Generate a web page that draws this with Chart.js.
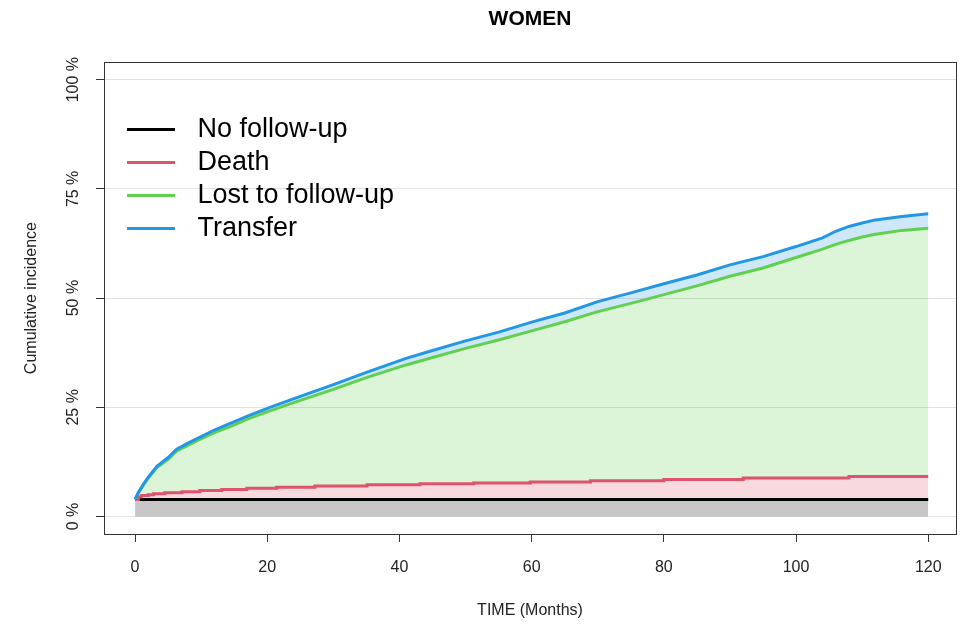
<!DOCTYPE html>
<html>
<head>
<meta charset="utf-8">
<script src="https://cdn.jsdelivr.net/npm/chart.js@4.4.1/dist/chart.umd.min.js"></script>
<style>
  html, body { margin: 0; padding: 0; background: #fff; }
  #chart { display: block; }
</style>
</head>
<body>
<canvas id="chart" width="963" height="624"></canvas>
<script>
// values (cumulative, stacked as drawn), in %
const trendMonths = [0, 0.5, 1.3, 2, 3.3, 5, 6.3, 8, 10, 12, 14.4, 17, 20.4, 25, 30, 35, 41, 45, 50, 55, 60, 65, 70, 75, 80, 85, 90, 95, 100, 104, 106, 108, 110, 112, 116, 120];
const transferPct = [3.9, 5.5, 7.5, 9.0, 11.5, 13.5, 15.4, 16.8, 18.3, 19.8, 21.3, 23.0, 25.0, 27.5, 30.2, 33.0, 36.2, 38.0, 40.2, 42.2, 44.5, 46.6, 49.2, 51.2, 53.3, 55.3, 57.6, 59.5, 61.8, 63.8, 65.3, 66.4, 67.2, 67.9, 68.7, 69.3];
const lostPct = [3.9, 5.4, 7.3, 8.8, 11.2, 13.1, 15.0, 16.3, 17.8, 19.2, 20.6, 22.3, 24.2, 26.6, 29.1, 31.8, 34.7, 36.4, 38.5, 40.4, 42.5, 44.6, 46.9, 48.8, 50.8, 52.8, 55.0, 56.9, 59.3, 61.2, 62.3, 63.2, 64.0, 64.6, 65.5, 66.0];

const deathMonths = [0, 0.5, 1, 2, 2.8, 4.5, 7.1, 9.8, 13.1, 16.9, 21.4, 27.2, 35.1, 43.1, 51.2, 59.8, 68.9, 80, 92, 108, 120];
const deathPct = [3.9, 4.5, 4.8, 5.0, 5.2, 5.45, 5.7, 5.95, 6.2, 6.45, 6.7, 7.0, 7.25, 7.5, 7.7, 7.9, 8.2, 8.5, 8.8, 9.15, 9.15];

const noFollowMonths = [0, 120];
const noFollowPct = [3.9, 3.9];

const seriesNames = ["No follow-up", "Death", "Lost to follow-up", "Transfer"];
const xTicks = [0, 20, 40, 60, 80, 100, 120];
const yTicks = [0, 25, 50, 75, 100];

const font = "'Liberation Sans', Arial, sans-serif";

const toPoints = (xs, ys) => xs.map((x, i) => ({ x: x, y: ys[i] }));

// legend key: a 48px line with some empty room after it, as R spaces it
function legendKey(color) {
  const c = document.createElement("canvas");
  c.width = 57;
  c.height = 3;
  const g = c.getContext("2d");
  g.fillStyle = color;
  g.fillRect(0, 0, 48, 3);
  return c;
}

// box around the plot region, like R's box()
const plotBox = {
  id: "plotBox",
  afterDraw(chart) {
    const a = chart.chartArea;
    const ctx = chart.ctx;
    ctx.save();
    ctx.strokeStyle = "#333";
    ctx.lineWidth = 1;
    ctx.strokeRect(Math.round(a.left) + 0.5, Math.round(a.top) + 0.5, Math.round(a.right - a.left), Math.round(a.bottom - a.top));
    ctx.restore();
  }
};

// put the legend where R's legend("topleft", inset) puts it
const legendSpot = {
  id: "legendSpot",
  afterLayout(chart) {
    const l = chart.legend;
    const a = chart.chartArea;
    l.left = a.left + 17;
    l.top = a.top + 47.5;
    l.right = a.right;
    l.bottom = a.bottom;
  }
};

new Chart(document.getElementById("chart"), {
  type: "line",
  data: {
    datasets: [
      {
        label: seriesNames[0],
        data: toPoints(noFollowMonths, noFollowPct),
        borderColor: "#000000",
        backgroundColor: "rgba(0,0,0,0.22)",
        fill: "origin",
        order: 3
      },
      {
        label: seriesNames[1],
        data: toPoints(deathMonths, deathPct),
        borderColor: "#DF536B",
        backgroundColor: "rgba(223,83,107,0.22)",
        fill: "-1",
        stepped: true,
        order: 2
      },
      {
        label: seriesNames[2],
        data: toPoints(trendMonths, lostPct),
        borderColor: "#61D04F",
        backgroundColor: "rgba(97,208,79,0.22)",
        fill: "-1",
        order: 1
      },
      {
        label: seriesNames[3],
        data: toPoints(trendMonths, transferPct),
        borderColor: "#2297E6",
        backgroundColor: "rgba(34,151,230,0.22)",
        fill: "-1",
        order: 0
      }
    ]
  },
  options: {
    responsive: false,
    animation: false,
    devicePixelRatio: 1,
    layout: { padding: { left: 0, right: 7, top: 0, bottom: 0 } },
    elements: {
      point: { radius: 0 },
      line: { borderWidth: 3, tension: 0 }
    },
    scales: {
      x: {
        type: "linear",
        min: -4.7,
        max: 124.2,
        afterBuildTicks: s => { s.ticks = xTicks.map(v => ({ value: v })); },
        afterFit: s => { s.height = 90; },
        border: { display: false },
        grid: { drawOnChartArea: false, tickColor: "#333", tickLength: 8 },
        ticks: { color: "#222", font: { family: font, size: 16 }, padding: 16, maxRotation: 0 },
        title: { display: true, text: "TIME (Months)", color: "#222", font: { family: font, size: 16 }, padding: { top: 0, bottom: 4 } }
      },
      y: {
        type: "linear",
        min: -4,
        max: 104,
        afterBuildTicks: s => { s.ticks = yTicks.map(v => ({ value: v })); },
        afterFit: s => { s.width = 104; },
        border: { display: false },
        grid: { color: "#e2e2e2", lineWidth: 1, tickColor: "#333", tickLength: 8 },
        ticks: {
          color: "#222",
          font: { family: font, size: 16 },
          padding: 0,
          minRotation: 90,
          maxRotation: 90,
          crossAlign: "center",
          callback: v => v + " %"
        },
        title: { display: true, text: "Cumulative incidence", color: "#222", font: { family: font, size: 16 }, padding: { top: 22, bottom: 0 } }
      }
    },
    plugins: {
      filler: { drawTime: "beforeDatasetsDraw" },
      tooltip: { enabled: false },
      title: {
        display: true,
        fullSize: false,
        text: "WOMEN",
        color: "#000",
        font: { family: font, size: 21, weight: "bold" },
        padding: { top: 7, bottom: 30 }
      },
      legend: {
        position: "chartArea",
        align: "start",
        labels: {
          usePointStyle: true,
          pointStyleWidth: 57,
          boxHeight: 3,
          padding: 6,
          color: "#000",
          font: { family: font, size: 27 },
          sort: (a, b) => a.datasetIndex - b.datasetIndex,
          generateLabels: chart => chart.data.datasets.map((ds, i) => ({
            text: ds.label,
            fillStyle: ds.borderColor,
            strokeStyle: ds.borderColor,
            pointStyle: legendKey(ds.borderColor),
            lineWidth: 0,
            hidden: false,
            datasetIndex: i
          }))
        }
      }
    }
  },
  plugins: [plotBox, legendSpot]
});
</script>
</body>
</html>
